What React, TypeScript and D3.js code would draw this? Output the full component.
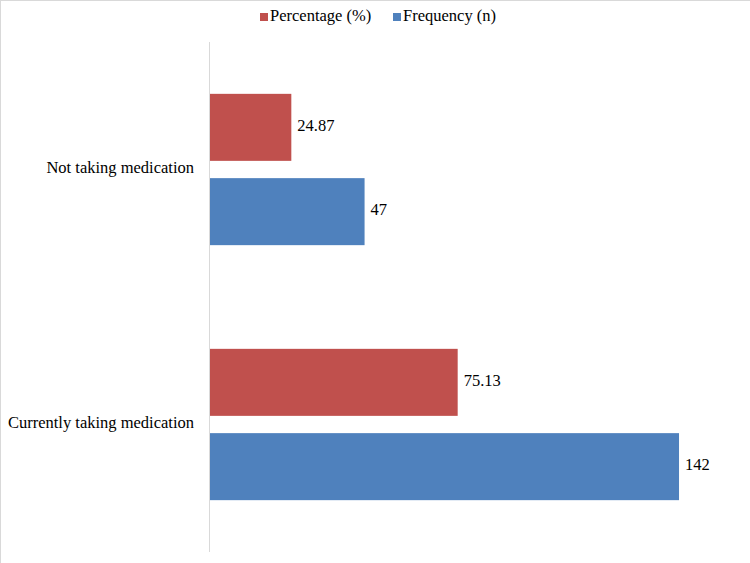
import React from 'react';
import * as d3 from 'd3';

const categories = ['Not taking medication', 'Currently taking medication'];
const seriesNames = ['Percentage (%)', 'Frequency (n)'];
const percentage = [24.87, 75.13];
const frequency = [47, 142];
const valueLabels = [['24.87', '75.13'], ['47', '142']];

const colors = ['#C0504D', '#4F81BD'];

const W = 750;
const H = 563;
const FONT = "'Liberation Serif', 'Times New Roman', Times, 'DejaVu Serif', serif";
const txt = { fontFamily: FONT, fontSize: '16.5px' };

export default function App() {
  const x = d3.scaleLinear().domain([0, 160]).range([209, 209 + 160 * 3.31]);
  const y = d3.scaleBand().domain(categories).range([42, 552]);
  const inner = d3
    .scaleBand()
    .domain(seriesNames)
    .range([0, y.bandwidth()])
    .paddingInner(0.205)
    .paddingOuter(0.615);

  const series = [percentage, frequency];

  // legend positions
  const legendItems = [
    { sx: 260, tx: 270 },
    { sx: 393, tx: 403 },
  ];

  return (
    <svg
      width={W}
      height={H}
      style={{ position: 'absolute', left: 0, top: 0, background: '#fff' }}
    >
      <rect x={0} y={0} width={W} height={H} fill="#fff" />
      <line x1={0} y1={0.5} x2={W} y2={0.5} stroke="#D9D9D9" />
      <line x1={0.5} y1={0} x2={0.5} y2={H} stroke="#D9D9D9" />

      {/* legend */}
      {seriesNames.map((name, i) => (
        <g key={name}>
          <rect x={legendItems[i].sx} y={13} width={8} height={8} fill={colors[i]} />
          <text x={legendItems[i].tx} y={17} style={txt} dominantBaseline="middle" fill="#000">
            {name}
          </text>
        </g>
      ))}

      {/* bars */}
      {categories.map((cat, ci) => (
        <g key={cat} transform={`translate(0,${y(cat)})`}>
          {seriesNames.map((s, si) => {
            const v = series[si][ci];
            const by = inner(s)!;
            return (
              <g key={s}>
                <rect
                  x={x(0)}
                  y={by}
                  width={x(v) - x(0)}
                  height={inner.bandwidth()}
                  fill={colors[si]}
                />
                <text
                  x={x(v) + 6}
                  y={by + inner.bandwidth() / 2}
                  style={txt}
                  dominantBaseline="middle"
                  fill="#000"
                >
                  {valueLabels[si][ci]}
                </text>
              </g>
            );
          })}
          <text
            x={194}
            y={y.bandwidth() / 2}
            style={txt}
            textAnchor="end"
            dominantBaseline="middle"
            fill="#000"
          >
            {cat}
          </text>
        </g>
      ))}

      {/* axis line */}
      <line x1={x(0) + 0.5} y1={42} x2={x(0) + 0.5} y2={552} stroke="#D9D9D9" />
    </svg>
  );
}
